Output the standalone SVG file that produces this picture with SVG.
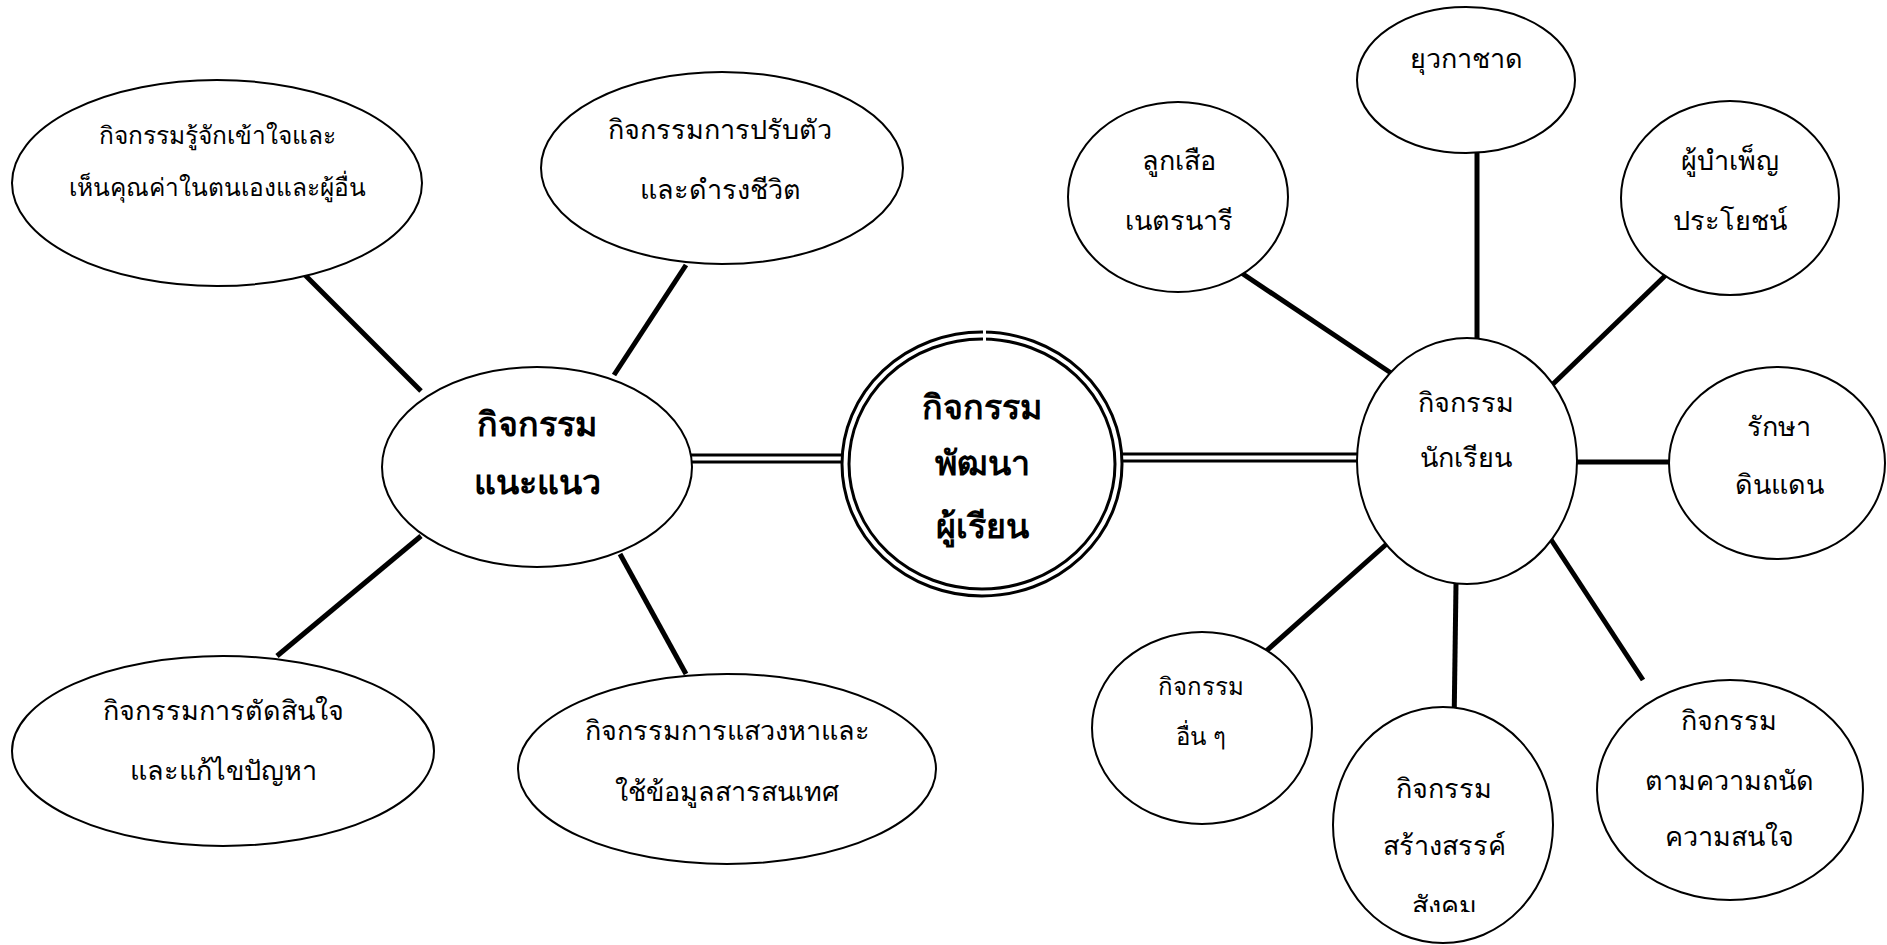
<svg xmlns="http://www.w3.org/2000/svg" width="1887" height="945" viewBox="0 0 1887 945">
<style>
.n{fill:#fff;stroke:#000;stroke-width:2}
.c{stroke:#000;stroke-width:5;fill:none}
.d{stroke:#000;stroke-width:3;fill:none}
.t{font-family:'Noto Sans','DejaVu Sans',sans-serif;font-size:27px;fill:#000;text-anchor:middle}
.b{font-family:'Noto Sans','DejaVu Sans',sans-serif;font-size:34px;font-weight:bold;fill:#000;text-anchor:middle}
.s{font-size:24px}
.m{font-size:24.5px}
</style>
<defs>
<clipPath id="clipS"><rect x="1300" y="850" width="300" height="62"/></clipPath>
</defs>
<rect width="1887" height="945" fill="#fff"/>
<g id="connectors">
<line class="c" x1="301" y1="271" x2="421" y2="391"/>
<line class="c" x1="686" y1="265" x2="614" y2="375"/>
<line class="c" x1="421" y1="536" x2="277" y2="656"/>
<line class="c" x1="620" y1="554" x2="686" y2="674"/>
<line class="d" x1="686" y1="455" x2="848" y2="455"/>
<line class="d" x1="686" y1="462" x2="848" y2="462"/>
<line class="d" x1="1121" y1="454" x2="1357" y2="454"/>
<line class="d" x1="1121" y1="461" x2="1357" y2="461"/>
<line class="c" x1="1240" y1="272" x2="1394" y2="375"/>
<line class="c" x1="1477" y1="152" x2="1477" y2="343"/>
<line class="c" x1="1668" y1="273" x2="1552" y2="385"/>
<line class="c" x1="1576" y1="462" x2="1669" y2="462"/>
<line class="c" x1="1390" y1="541" x2="1264" y2="653"/>
<line class="c" x1="1456" y1="584" x2="1454" y2="728"/>
<line class="c" x1="1550" y1="538" x2="1643" y2="680"/>
</g>
<g id="n1"><ellipse class="n" cx="217" cy="183" rx="205" ry="103"/>
<text class="t m" x="217" y="144">กิจกรรมรู้จักเข้าใจและ</text>
<text class="t m" x="217" y="196">เห็นคุณค่าในตนเองและผู้อื่น</text></g>
<g id="n2"><ellipse class="n" cx="722" cy="168" rx="181" ry="96"/>
<text class="t" x="720" y="139">กิจกรรมการปรับตัว</text>
<text class="t" x="720" y="199">และดำรงชีวิต</text></g>
<g id="n3"><ellipse class="n" cx="537" cy="467" rx="155" ry="100"/>
<text class="b" x="537" y="436">กิจกรรม</text>
<text class="b" x="537" y="494">แนะแนว</text></g>
<g id="n4"><ellipse class="n" cx="223" cy="751" rx="211" ry="95"/>
<text class="t" x="223" y="720">กิจกรรมการตัดสินใจ</text>
<text class="t" x="223" y="780">และแก้ไขปัญหา</text></g>
<g id="n5"><ellipse class="n" cx="727" cy="769" rx="209" ry="95"/>
<text class="t" x="727" y="740">กิจกรรมการแสวงหาและ</text>
<text class="t" x="727" y="801">ใช้ข้อมูลสารสนเทศ</text></g>
<g id="center">
<ellipse cx="982" cy="464" rx="140" ry="132" fill="#fff" stroke="#000" stroke-width="3"/>
<ellipse cx="982" cy="464" rx="133" ry="125" fill="none" stroke="#000" stroke-width="3"/>
<rect x="983" y="329" width="3" height="12" fill="#fff"/>
<text class="b" x="982" y="419">กิจกรรม</text>
<text class="b" x="982" y="475">พัฒนา</text>
<text class="b" x="982" y="538">ผู้เรียน</text></g>
<g id="n6"><ellipse class="n" cx="1467" cy="461" rx="110" ry="123"/>
<text class="t" x="1466" y="412">กิจกรรม</text>
<text class="t" x="1466" y="467">นักเรียน</text></g>
<g id="n7"><ellipse class="n" cx="1178" cy="197" rx="110" ry="95"/>
<text class="t" x="1179" y="170">ลูกเสือ</text>
<text class="t" x="1179" y="230">เนตรนารี</text></g>
<g id="n8"><ellipse class="n" cx="1466" cy="80" rx="109" ry="73"/>
<text class="t" x="1466" y="68">ยุวกาชาด</text></g>
<g id="n9"><ellipse class="n" cx="1730" cy="198" rx="109" ry="97"/>
<text class="t" x="1730" y="170">ผู้บำเพ็ญ</text>
<text class="t" x="1730" y="230">ประโยชน์</text></g>
<g id="n10"><ellipse class="n" cx="1777" cy="463" rx="108" ry="96"/>
<text class="t" x="1779" y="436">รักษา</text>
<text class="t" x="1779" y="494">ดินแดน</text></g>
<g id="n11"><ellipse class="n" cx="1202" cy="728" rx="110" ry="96"/>
<text class="t s" x="1201" y="695">กิจกรรม</text>
<text class="t s" x="1201" y="745">อื่น ๆ</text></g>
<g id="n12"><ellipse class="n" cx="1443" cy="825" rx="110" ry="118"/>
<text class="t" x="1444" y="798">กิจกรรม</text>
<text class="t" x="1444" y="855">สร้างสรรค์</text>
<text class="t" x="1444" y="915" clip-path="url(#clipS)">สังคม</text></g>
<g id="n13"><ellipse class="n" cx="1730" cy="790" rx="133" ry="110"/>
<text class="t" x="1729" y="730">กิจกรรม</text>
<text class="t" x="1729" y="790">ตามความถนัด</text>
<text class="t" x="1729" y="846">ความสนใจ</text></g>
</svg>
